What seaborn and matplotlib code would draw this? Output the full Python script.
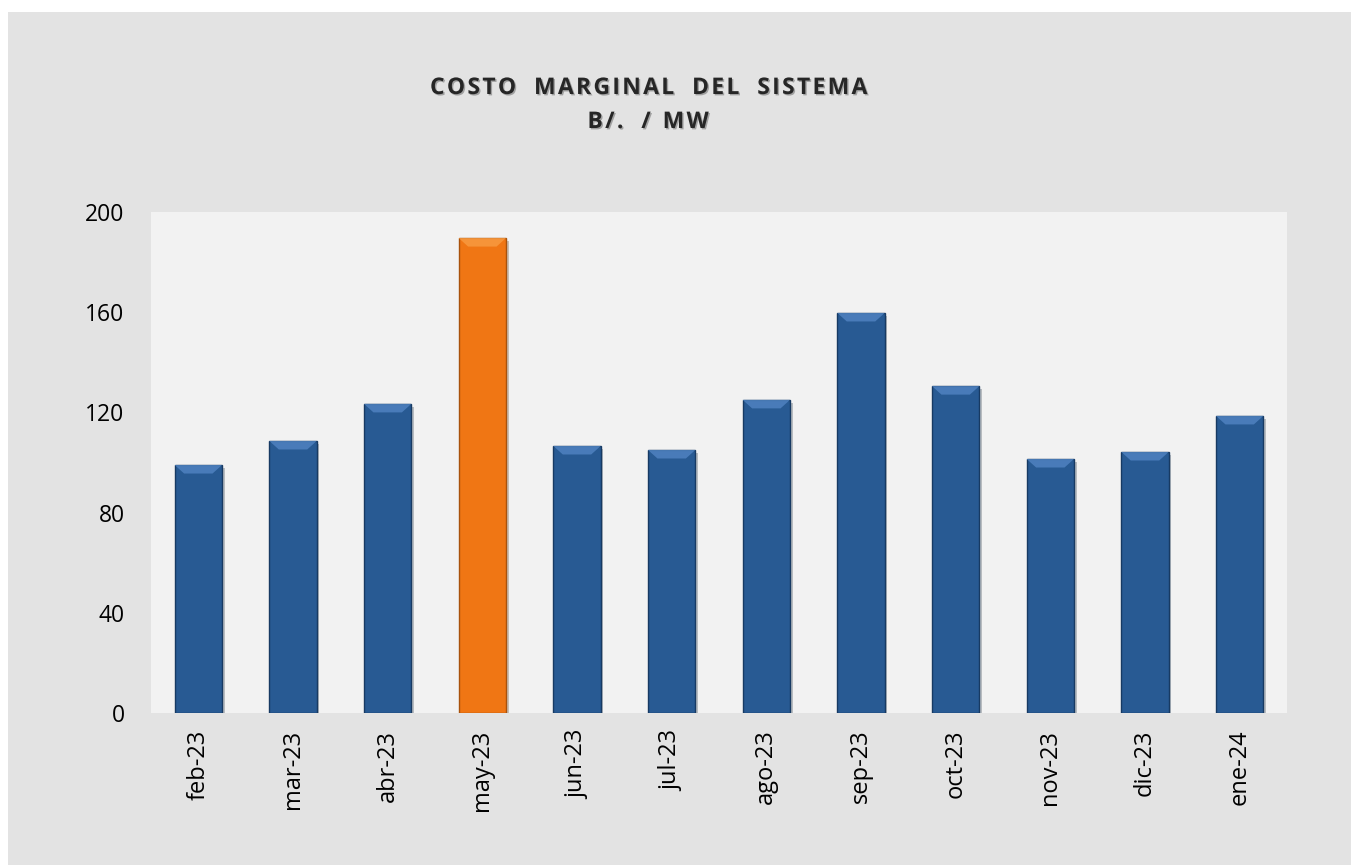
import pandas as pd
import numpy as np
import matplotlib
matplotlib.use("Agg")
import matplotlib.pyplot as plt
import matplotlib.patheffects as pe
from matplotlib.patches import Rectangle, Polygon
from matplotlib.ticker import FixedLocator
import seaborn as sns

# Data
months = ["feb-23", "mar-23", "abr-23", "may-23", "jun-23", "jul-23",
          "ago-23", "sep-23", "oct-23", "nov-23", "dic-23", "ene-24"]
costo = [99.0, 108.6, 123.4, 189.6, 106.6, 105.0,
         125.0, 159.7, 130.5, 101.4, 104.2, 118.6]
highlight = "may-23"

df = pd.DataFrame({"mes": months, "costo": costo})
df["grupo"] = np.where(df["mes"] == highlight, "max", "normal")

sns.set_style("white")
plt.rcParams["font.family"] = ["Open Sans", "DejaVu Sans"]

fig = plt.figure(figsize=(13.53, 8.65), dpi=100)
fig.patch.set_facecolor("white")
# gray chart-area background
fig.add_artist(Rectangle((8 / 1353, 0), 1343 / 1353, 853 / 865,
                         transform=fig.transFigure, facecolor="#e3e3e3",
                         edgecolor="none", zorder=-10))

ax = fig.add_axes([151 / 1353, 152 / 865, 1136 / 1353, 501 / 865])
ax.set_facecolor("#f2f2f2")

palette = {"normal": "#285a93", "max": "#f07614"}
sns.barplot(data=df, x="mes", y="costo", hue="grupo", palette=palette,
            dodge=False, width=0.5, legend=False, saturation=1, ax=ax, zorder=3)

edge = {"normal": "#173a63", "max": "#a8520c"}
top = {"normal": "#4f82c0", "max": "#f89a40"}
grp = dict(zip(range(len(months)), df["grupo"]))
for bar in ax.patches:
    if bar.get_height() == 0 or np.isnan(bar.get_height()):
        continue
    x0, w, h = bar.get_x(), bar.get_width(), bar.get_height()
    g = grp[int(round(x0 + w / 2))]
    bar.set_edgecolor(edge[g])
    bar.set_linewidth(1.0)
    bar.set_path_effects([pe.SimplePatchShadow(offset=(2, -2), alpha=0.25),
                          pe.Normal()])
    # bevel highlight on top of each bar
    d = 3.4
    ax.add_patch(Polygon([(x0, h), (x0 + w, h), (x0 + w * 0.8, h - d), (x0 + w * 0.2, h - d)],
                         closed=True, facecolor=top[g], edgecolor="none",
                         zorder=4, alpha=0.85))

ax.set_ylim(0, 200)
ax.set_xlim(-0.5, len(months) - 0.5)
ax.set_yticks([0, 40, 80, 120, 160, 200])
ax.set_xlabel("")
ax.set_ylabel("")
for s in ax.spines.values():
    s.set_visible(False)

ax.tick_params(axis="y", length=0, pad=19, labelsize=16.5, labelcolor="black")
ax.tick_params(axis="x", which="major", length=0, pad=12, labelsize=17,
               labelrotation=90, labelcolor="black")
ax.xaxis.set_minor_locator(FixedLocator(np.arange(-0.5, len(months), 1.0)))
ax.tick_params(axis="x", which="minor", length=10, width=1.5,
               color="#f2f2f2", direction="out")
ax.grid(False)


def spaced(s):
    return "\u200a".join(s)


title1 = "   ".join(spaced(w) for w in ["COSTO", "MARGINAL", "DEL", "SISTEMA"])
title2 = spaced("B/.") + "   " + spaced("/") + "  " + spaced("MW")
fx = [pe.SimplePatchShadow(offset=(1, -1), alpha=0.3), pe.Normal()]
fig.text(648 / 1353, 1 - 88 / 865, title1, ha="center", va="center",
         fontsize=16.5, fontweight="bold", path_effects=fx)
fig.text(648 / 1353, 1 - 122 / 865, title2, ha="center", va="center",
         fontsize=16.5, fontweight="bold", path_effects=fx)

fig.savefig("out.png", dpi=100, facecolor=fig.get_facecolor())
